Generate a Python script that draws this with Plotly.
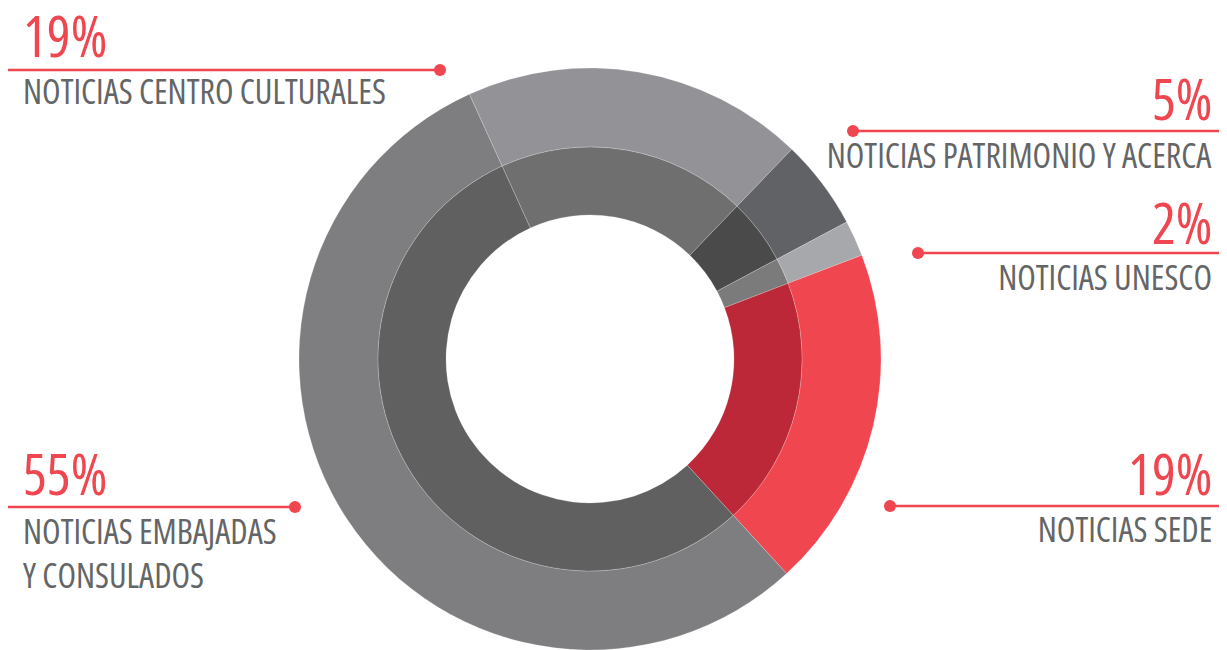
import plotly.graph_objects as go

# data
categories = ["Noticias Centro Culturales", "Noticias Patrimonio y Acerca",
              "Noticias UNESCO", "Noticias Sede", "Noticias Embajadas y Consulados"]
shares = [19, 5, 2, 19, 55]
pct_labels = ["19%", "5%", "2%", "19%", "55%"]
name_labels = ["NOTICIAS CENTRO CULTURALES", "NOTICIAS PATRIMONIO Y ACERCA",
               "NOTICIAS UNESCO", "NOTICIAS SEDE", "NOTICIAS EMBAJADAS<br>Y CONSULADOS"]

outer_colors = ["#939397", "#616265", "#a7a8ab", "#ef464f", "#7e7e80"]
inner_colors = ["#6f6f6f", "#4a4a4a", "#7b7b7b", "#bc2837", "#606060"]

OFF = 8  # page body margin
W, H = 1227 - OFF, 650 - OFF
RED = "#ef4650"
GREY_TXT = "#646567"
FONT = "Open Sans"


def px(x):
    return (x - OFF) / W


def py(y):
    return 1 - (y - OFF) / H


cx, cy = 590, 359
r_out, r_mid, r_hole = 291, 212, 144

fig = go.Figure()
fig.add_trace(go.Pie(
    labels=categories, values=shares, sort=False, direction="clockwise",
    rotation=-24.5, hole=r_mid / r_out, textinfo="none", hoverinfo="label+percent",
    marker=dict(colors=outer_colors, line=dict(color="rgba(255,255,255,0.35)", width=0.6)),
    domain=dict(x=[px(cx - r_out), px(cx + r_out)], y=[py(cy + r_out), py(cy - r_out)]),
    showlegend=False
))
fig.add_trace(go.Pie(
    labels=categories, values=shares, sort=False, direction="clockwise",
    rotation=-24.5, hole=r_hole / r_mid, textinfo="none", hoverinfo="label+percent",
    marker=dict(colors=inner_colors, line=dict(color="rgba(255,255,255,0.35)", width=0.6)),
    domain=dict(x=[px(cx - r_mid), px(cx + r_mid)], y=[py(cy + r_mid), py(cy - r_mid)]),
    showlegend=False
))

# label placement: (side, text x, pct y-centre, name y-centre, line y, line x0, line x1, dot x)
callouts = [
    ("left", 21, 35, 91, 70, 7, 440, 440),
    ("right", 1214, 98, 155, 131, 853, 1227, 853),
    ("right", 1214, 222, 277, 253, 918, 1227, 918),
    ("right", 1214, 473, 529, 506, 890, 1227, 890),
    ("left", 21, 473, 553, 507, 7, 295, 295),
]

for i, (side, tx, yp, yn, ly, x0, x1, dx) in enumerate(callouts):
    anchor = "left" if side == "left" else "right"
    fig.add_annotation(x=px(tx), y=py(yp), xref="paper", yref="paper",
                       text=pct_labels[i], showarrow=False, xanchor=anchor, yanchor="middle",
                       align=anchor, font=dict(family=FONT, size=56, color=RED))
    fig.add_annotation(x=px(tx), y=py(yn), xref="paper", yref="paper",
                       text=name_labels[i], showarrow=False, xanchor=anchor, yanchor="middle",
                       align=anchor, font=dict(family=FONT, size=34, color=GREY_TXT))
    fig.add_shape(type="line", xref="paper", yref="paper",
                  x0=px(x0), x1=px(x1), y0=py(ly), y1=py(ly),
                  line=dict(color=RED, width=2.5))
    fig.add_shape(type="circle", xref="paper", yref="paper",
                  x0=px(dx - 6), x1=px(dx + 6), y0=py(ly + 6), y1=py(ly - 6),
                  fillcolor=RED, line=dict(width=0))

fig.update_layout(
    width=W, height=H,
    margin=dict(l=0, r=0, t=0, b=0),
    paper_bgcolor="white", plot_bgcolor="white",
)

# condensed face of the labels (anchors stay put since align matches xanchor)
js = """
var s = document.createElement('style');
s.textContent = '.annotation-text { font-stretch: condensed !important; }';
document.head.appendChild(s);
"""
fig.write_html("out.html", post_script=js)
